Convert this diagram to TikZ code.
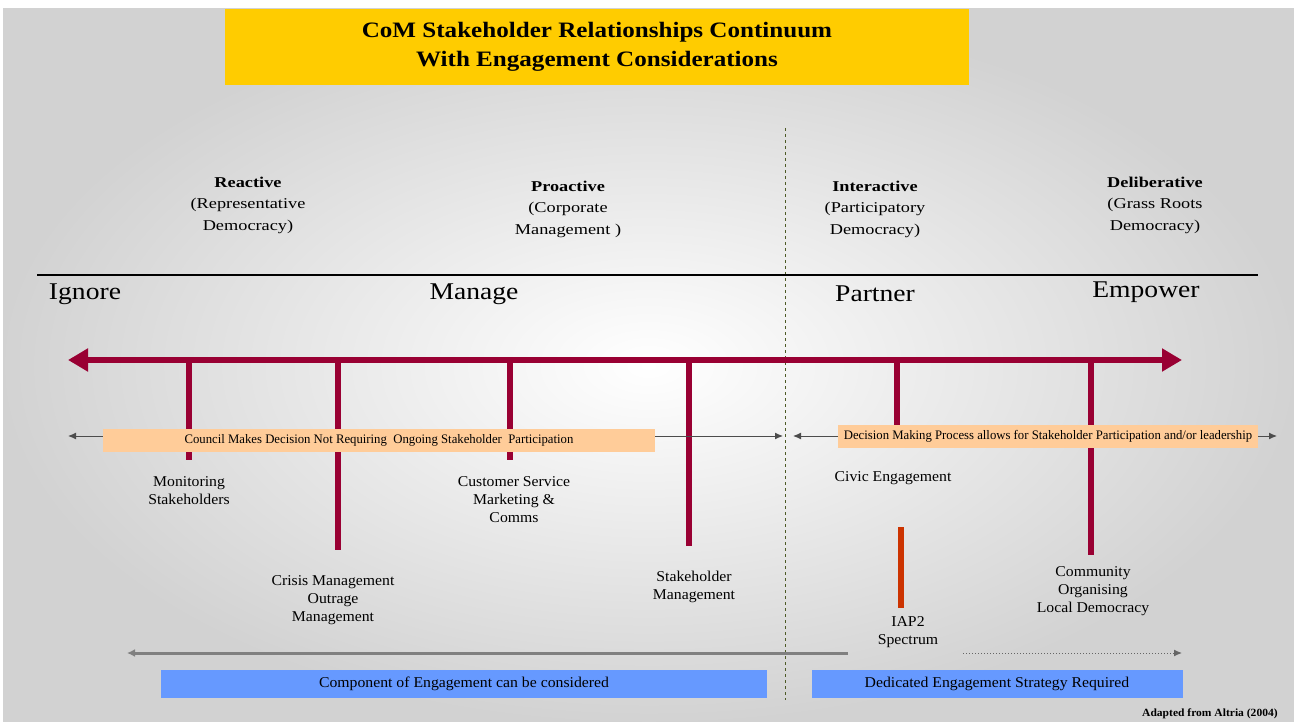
\documentclass[tikz,border=0pt]{standalone}
\usepackage{fontspec}
\setmainfont{Liberation Serif}
\newfontfamily\titlefont[FakeStretch=1.14]{Liberation Serif}
\newfontfamily\headfont[FakeStretch=1.22]{Liberation Serif}
\newfontfamily\stagefont[FakeStretch=1.15]{Liberation Serif}
\newfontfamily\itemfont[FakeStretch=1.05]{Liberation Serif}
\newfontfamily\bandfont[FakeStretch=0.98]{Liberation Serif}
\usetikzlibrary{arrows.meta,positioning}
\definecolor{crimson}{HTML}{990033}
\definecolor{titleyellow}{HTML}{FFCC00}
\definecolor{peach}{HTML}{FFCC99}
\definecolor{boxblue}{HTML}{6699FF}
\definecolor{rust}{HTML}{CC3300}
\definecolor{olivedash}{HTML}{4D5A26}
\tikzset{
  headtext/.style={align=center, font=\headfont\fontsize{15}{21.5}\selectfont},
  stagetext/.style={font=\stagefont\fontsize{24}{26}\selectfont},
  itemtext/.style={align=center, font=\itemfont\fontsize{15}{18}\selectfont},
  bandbox/.style={fill=peach, minimum height=23pt, inner sep=0pt, font=\bandfont\fontsize{13}{14}\selectfont},
  bluebox/.style={fill=boxblue, minimum height=28pt, inner sep=0pt, font=\itemfont\fontsize{15}{16}\selectfont},
  bar/.style={crimson, line width=6pt},
  thinarrow/.style={draw=black!70, line width=1pt, -{Latex[length=8pt,width=7pt]}}
}
\begin{document}
\begin{tikzpicture}[x=1pt,y=-1pt]
  \useasboundingbox (0,0) rectangle (1294,722);
  % background
  \shade[inner color=white, outer color=gray!35] (3,9) rectangle (1294,722);
  % title
  \node[fill=titleyellow, minimum width=744pt, minimum height=76pt, align=center,
        font=\titlefont\fontsize{22}{29}\selectfont\bfseries] (title) at (597,47)
        {CoM Stakeholder Relationships Continuum\\With Engagement Considerations};
  % dividers
  \coordinate (divtop) at (785,128);
  \coordinate (divbot) at (785,700);
  \draw[olivedash, dashed, line width=0.8pt] (divtop) -- (divbot);
  \coordinate (rulel) at (37,275);
  \coordinate (ruler) at (1258,275);
  \draw[line width=1.2pt] (rulel) -- (ruler);
  % headings
  \node[headtext] (reactive) at (248,205) {\textbf{Reactive}\\(Representative\\Democracy)};
  \node[headtext] (proactive) at (568,209) {\textbf{Proactive}\\(Corporate\\Management )};
  \node[headtext] (interactive) at (875,209) {\textbf{Interactive}\\(Participatory\\Democracy)};
  \node[headtext] (deliberative) at (1155,205) {\textbf{Deliberative}\\(Grass Roots\\Democracy)};
  \node[stagetext] (ignore) at (85,294) {Ignore};
  \node[stagetext] (manage) at (474,294) {Manage};
  \node[stagetext] (partner) at (875,294) {Partner};
  \node[stagetext] (empower) at (1146,292) {Empower};
  % continuum
  \coordinate (axl) at (68,360);
  \coordinate (axr) at (1182,360);
  \draw[crimson, line width=6pt, {Triangle[length=20pt,width=22pt]}-{Triangle[length=20pt,width=22pt]}] (axl) -- (axr);
  \draw[bar] (189,360) -- (189,460);
  \draw[bar] (338,360) -- (338,550);
  \draw[bar] (510,360) -- (510,460);
  \draw[bar] (689,360) -- (689,546);
  \draw[bar] (897,360) -- (897,428);
  \draw[bar] (1091,360) -- (1091,555);
  \draw[rust, line width=6pt] (901,527) -- (901,608);
  % bands
  \node[bandbox, minimum width=552pt] (council) at (379,440)
        {Council Makes Decision Not Requiring\ \ Ongoing Stakeholder\ \ Participation};
  \node[bandbox, minimum width=420pt] (process) at (1048,436)
        {Decision Making Process allows for Stakeholder Participation and/or leadership};
  \coordinate (councill) at (68,436);
  \coordinate (councilr) at (783,436);
  \coordinate (processl) at (793,436);
  \coordinate (processr) at (1277,436);
  \draw[thinarrow] (council.west |- councill) -- (councill);
  \draw[thinarrow] (council.east |- councilr) -- (councilr);
  \draw[thinarrow] (process.west |- processl) -- (processl);
  \draw[thinarrow] (process.east |- processr) -- (processr);
  % items
  \node[itemtext] (monitor) at (189,491) {Monitoring\\Stakeholders};
  \node[itemtext] (crisis) at (333,600) {Crisis Management\\Outrage\\Management};
  \node[itemtext] (customer) at (514,500) {Customer Service\\Marketing \&\\Comms};
  \node[itemtext] (stakeman) at (694,587) {Stakeholder\\Management};
  \node[itemtext] (civic) at (893,478) {Civic Engagement};
  \node[itemtext] (iap) at (908,632) {IAP2\\Spectrum};
  \node[itemtext] (community) at (1093,591) {Community\\Organising\\Local Democracy};
  % bottom
  \coordinate (compl) at (127,653);
  \coordinate (compr) at (848,653);
  \coordinate (dedl) at (963,653);
  \coordinate (dedr) at (1182,653);
  \draw[gray, line width=3pt, -{Latex[length=8pt,width=8pt]}] (compr) -- (compl);
  \draw[gray!80!black, dotted, line width=1pt, -{Latex[length=8pt,width=7pt]}] (dedl) -- (dedr);
  \node[bluebox, minimum width=606pt] (component) at (464,684) {Component of Engagement can be considered};
  \node[bluebox, minimum width=371pt] (dedicated) at (997,684) {Dedicated Engagement Strategy Required};
  \node[anchor=base west, inner sep=0pt, font=\itemfont\fontsize{11}{12}\selectfont\bfseries] (source) at (1142,716) {Adapted from Altria (2004)};
\end{tikzpicture}
\end{document}
